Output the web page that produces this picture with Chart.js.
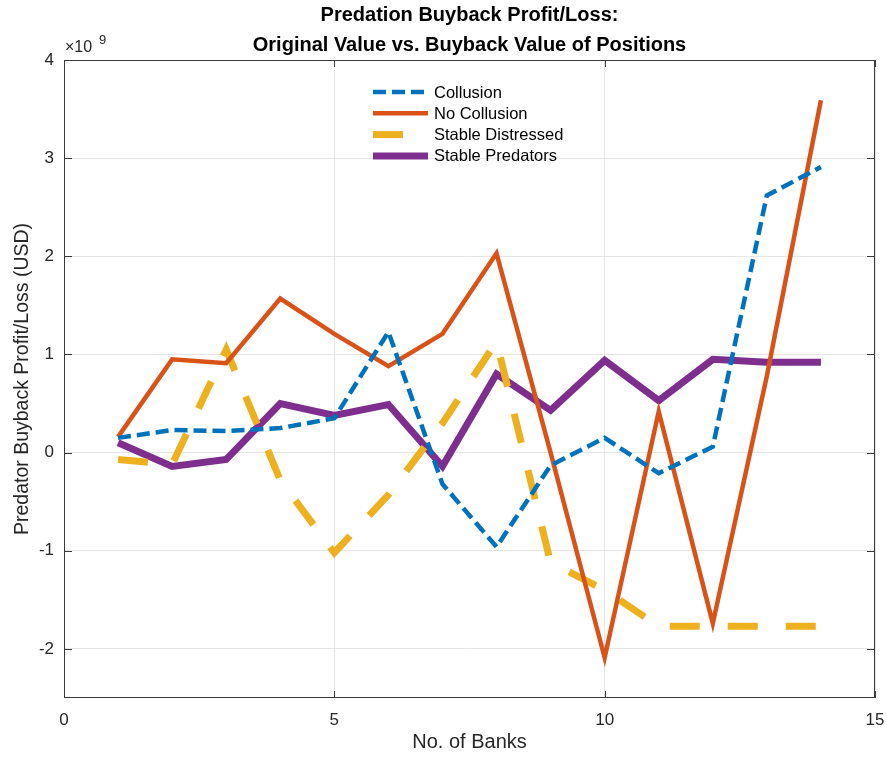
<!DOCTYPE html>
<html>
<head>
<meta charset="utf-8">
<script src="https://cdn.jsdelivr.net/npm/chart.js@4"></script>
<style>
  body { margin: 0; background: #fff; }
  #wrap { width: 887px; height: 758px; }
</style>
</head>
<body>
<div id="wrap"><canvas id="graf" width="887" height="758"></canvas></div>
<script>
// eixo x: numero de bancos
const bancos = [1, 2, 3, 4, 5, 6, 7, 8, 9, 10, 11, 12, 13, 14];

// valores em unidades de 1e9 USD
const colusao      = [0.15, 0.23, 0.22, 0.25, 0.35, 1.23, -0.32, -0.96, -0.13, 0.15, -0.21, 0.06, 2.62, 2.91];
const semColusao   = [0.16, 0.95, 0.91, 1.57, 1.21, 0.88, 1.21, 2.03, 0.0, -2.09, 0.42, -1.74, 0.78, 3.59];
const distressed   = [-0.07, -0.12, 1.05, -0.28, -1.02, -0.43, 0.30, 1.13, -1.12, -1.40, -1.77, -1.77, -1.77, -1.77];
const predadores   = [0.10, -0.14, -0.07, 0.50, 0.38, 0.49, -0.14, 0.80, 0.43, 0.94, 0.53, 0.95, 0.92, 0.92];

const xTicks = [0, 5, 10, 15];
const yTicks = [-2, -1, 0, 1, 2, 3, 4];

const titulo = ["Predation Buyback Profit/Loss:", "Original Value vs. Buyback Value of Positions"];
const FONTE = "'Liberation Sans', Arial, Helvetica, sans-serif";
const EIXO = "#262626";

function pontos(arr) {
  return arr.map((v, i) => ({ x: bancos[i], y: v }));
}

/* moldura, ticks internos, titulo, legenda */
const moldura = {
  id: "moldura",
  afterDraw(chart) {
    const { ctx, chartArea: a, scales } = chart;
    ctx.save();
    ctx.strokeStyle = "#3a3a3a";
    ctx.lineWidth = 1;
    ctx.strokeRect(a.left + 0.5, a.top + 0.5, a.right - a.left - 1, a.bottom - a.top - 1);

    ctx.beginPath();
    xTicks.forEach(v => {
      const x = Math.round(scales.x.getPixelForValue(v)) + 0.5;
      ctx.moveTo(x, a.bottom); ctx.lineTo(x, a.bottom - 7);
      ctx.moveTo(x, a.top); ctx.lineTo(x, a.top + 7);
    });
    yTicks.forEach(v => {
      const y = Math.round(scales.y.getPixelForValue(v)) + 0.5;
      ctx.moveTo(a.left, y); ctx.lineTo(a.left + 8, y);
      ctx.moveTo(a.right, y); ctx.lineTo(a.right - 8, y);
    });
    ctx.stroke();

    // titulo
    ctx.fillStyle = "#000";
    ctx.font = "bold 20px " + FONTE;
    ctx.textAlign = "center";
    ctx.textBaseline = "middle";
    const cx = (a.left + a.right) / 2;
    ctx.fillText(titulo[0], cx, 15);
    ctx.fillText(titulo[1], cx, 45);

    // multiplicador
    ctx.fillStyle = EIXO;
    ctx.textAlign = "left";
    ctx.font = "16px " + FONTE;
    ctx.fillText("\u00d710", a.left + 1, 48);
    ctx.font = "13px " + FONTE;
    ctx.fillText("9", a.left + 35, 40);

    // legenda
    const lx = a.left + 309, ly = a.top + 32;
    chart.data.datasets.forEach((ds, i) => {
      const y = ly + i * 21.3;
      ctx.beginPath();
      ctx.setLineDash(ds.borderDash || []);
      ctx.lineWidth = ds.borderWidth;
      ctx.strokeStyle = ds.borderColor;
      ctx.moveTo(lx, y); ctx.lineTo(lx + 55, y);
      ctx.stroke();
      ctx.setLineDash([]);
      ctx.fillStyle = "#000";
      ctx.font = "16.5px " + FONTE;
      ctx.fillText(ds.label, lx + 61, y + 1);
    });
    ctx.restore();
  }
};

new Chart(document.getElementById("graf"), {
  type: "line",
  plugins: [moldura],
  data: {
    datasets: [
      { label: "Collusion", data: pontos(colusao), borderColor: "#0072BD", borderWidth: 4.5, borderDash: [13, 6] },
      { label: "No Collusion", data: pontos(semColusao), borderColor: "#D95319", borderWidth: 4.5 },
      { label: "Stable Distressed", data: pontos(distressed), borderColor: "#EDB120", borderWidth: 7, borderDash: [30, 28] },
      { label: "Stable Predators", data: pontos(predadores), borderColor: "#7E2F8E", borderWidth: 7 }
    ]
  },
  options: {
    responsive: false,
    animation: false,
    layout: { padding: { top: 60, right: 12, left: 0, bottom: 0 } },
    elements: {
      point: { radius: 0 },
      line: { tension: 0, borderCapStyle: "butt", borderJoinStyle: "miter", fill: false }
    },
    plugins: {
      legend: { display: false },
      title: { display: false },
      tooltip: { enabled: false }
    },
    scales: {
      x: {
        type: "linear",
        min: 0, max: 15,
        afterBuildTicks: s => { s.ticks = xTicks.map(v => ({ value: v })); },
        afterFit: s => { s.height = 60; s.paddingLeft = 0; s.paddingRight = 0; },
        ticks: { color: EIXO, font: { family: FONTE, size: 17 }, padding: 12, maxRotation: 0 },
        grid: { color: "#e6e6e6", drawTicks: false },
        border: { display: false },
        title: { display: true, text: "No. of Banks", color: EIXO, font: { family: FONTE, size: 20 }, padding: { top: 2 } }
      },
      y: {
        min: -2.5, max: 4,
        afterBuildTicks: s => { s.ticks = yTicks.map(v => ({ value: v })); },
        afterFit: s => { s.width = 64; s.paddingTop = 0; s.paddingBottom = 0; },
        ticks: { color: EIXO, font: { family: FONTE, size: 17 }, padding: 10 },
        grid: { color: "#e6e6e6", drawTicks: false },
        border: { display: false },
        title: { display: true, text: "Predator Buyback Profit/Loss (USD)", color: EIXO, font: { family: FONTE, size: 19.5 }, padding: { top: 11, bottom: 0 } }
      }
    }
  }
});
</script>
</body>
</html>
